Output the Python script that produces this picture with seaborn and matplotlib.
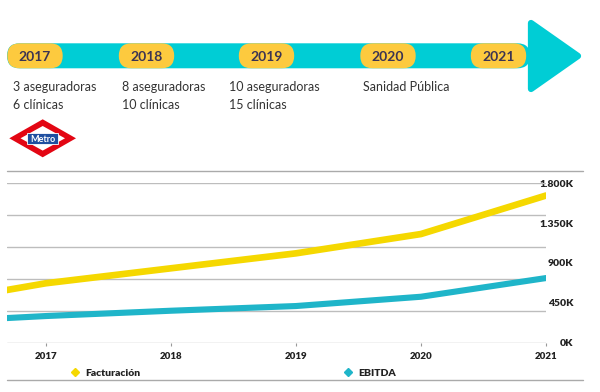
import pandas as pd
import matplotlib.pyplot as plt
import seaborn as sns
from matplotlib.patches import FancyBboxPatch, Polygon, Rectangle
from matplotlib.lines import Line2D
from matplotlib.ticker import MultipleLocator

# datos (miles de euros), 2016 queda fuera del borde izquierdo
anios = [2016, 2017, 2018, 2019, 2020, 2021]
facturacion = [427, 671, 840, 1009, 1227, 1662]
ebitda = [228, 301, 361, 414, 519, 730]

x_ticks = [2017, 2018, 2019, 2020, 2021]
y_ticks = [0, 450, 900, 1350, 1800]
y_labels = ['0K', '450K', '900K', '1.350K', '1.800K']

hitos = ['2017', '2018', '2019', '2020', '2021']
hitos_linea1 = ['3 aseguradoras', '8 aseguradoras', '10 aseguradoras', 'Sanidad Pública', '']
hitos_linea2 = ['6 clínicas', '10 clínicas', '15 clínicas', '', '']

# posiciones del timeline (pixeles)
pill_x = [35, 146.5, 266.5, 388, 498.5]
texto_x = [12.7, 121.7, 229.3, 363.3, 470]

AMARILLO = '#F5D800'
TURQUESA = '#1FB5C9'
BARRA = '#00CDD5'
PILL = '#FDCA3E'
MORADO = '#3C3452'

sns.set_style('white')
plt.rcParams['font.family'] = ['Lato', 'DejaVu Sans']

df = pd.DataFrame({'anio': anios * 2,
                   'valor': facturacion + ebitda,
                   'serie': ['Facturación'] * len(anios) + ['EBITDA'] * len(anios)})

fig = plt.figure(figsize=(6, 3.92), dpi=100)

# capa de fondo en pixeles para el timeline
bg = fig.add_axes([0, 0, 1, 1], zorder=0)
bg.set_xlim(0, 600)
bg.set_ylim(392, 0)
bg.axis('off')

bg.add_patch(FancyBboxPatch((7, 43.3), 523, 25, boxstyle='round,pad=0,rounding_size=12.5',
                            fc=BARRA, ec='none'))
bg.add_patch(Polygon([(531, 23), (531, 89), (578, 56)], closed=True, fc=BARRA, ec=BARRA,
                     lw=4.5, joinstyle='round'))
for cx, anio, l1, l2, tx in zip(pill_x, hitos, hitos_linea1, hitos_linea2, texto_x):
    bg.add_patch(FancyBboxPatch((cx - 27.7, 43.3), 55.4, 25,
                                boxstyle='round,pad=0,rounding_size=12.5', fc=PILL, ec='none'))
    bg.text(cx, 56.5, anio, ha='center', va='center', fontsize=10, fontweight='bold', color=MORADO)
    bg.text(tx, 86.7, l1, ha='left', va='center', fontsize=9, color='#333333')
    bg.text(tx, 105, l2, ha='left', va='center', fontsize=9, color='#333333')

# logo metro
bg.add_patch(Polygon([(9.3, 138.3), (42.7, 119.3), (76, 138.3), (42.7, 157.3)], fc='#E30613', ec='none'))
bg.add_patch(Polygon([(20.5, 138.3), (42.7, 126), (65, 138.3), (42.7, 150.6)], fc='white', ec='none'))
bg.add_patch(Rectangle((26.7, 133.3), 31.6, 11, fc='#1F4FA0', ec='white', lw=0.6))
bg.text(42.5, 139, 'Metro', ha='center', va='center', fontsize=6.5, fontweight='bold', color='white')

# lineas separadoras
bg.plot([7, 583], [170.7, 170.7], color='#AAAAAA', lw=1)
bg.plot([7, 583], [380, 380], color='#AAAAAA', lw=1)

# grafico
ax = fig.add_axes([7 / 600, (392 - 342.7) / 392, 539 / 600, 159.4 / 392], zorder=1)
ax.patch.set_alpha(0)
sns.lineplot(data=df[df['serie'] == 'EBITDA'], x='anio', y='valor', color=TURQUESA,
             linewidth=4.4, ax=ax, legend=False)
sns.lineplot(data=df[df['serie'] == 'Facturación'], x='anio', y='valor', color=AMARILLO,
             linewidth=4.8, ax=ax, legend=False)

ax.set_xlim(2016.69, 2021)
ax.set_ylim(0, 1800)
ax.set_xlabel('')
ax.set_ylabel('')
sns.despine(ax=ax, left=True, bottom=True)

ax.yaxis.set_minor_locator(MultipleLocator(360))
ax.yaxis.remove_overlapping_locs = False
ax.grid(False)
ax.grid(which='minor', axis='y', color='#BDBDBD', lw=1)

ax.yaxis.tick_right()
ax.set_yticks(y_ticks, labels=y_labels, fontweight='heavy', ha='right')
ax.tick_params(axis='y', which='both', length=0, pad=19.5, labelsize=7.5, labelcolor='#222222')

ax.set_xticks(x_ticks, labels=[str(x) for x in x_ticks], fontweight='heavy')
ax.tick_params(axis='x', length=2.5, width=0.8, color='#999999', pad=4, labelsize=7,
               labelcolor='#222222', bottom=True)

handles = [Line2D([], [], ls='none', marker='D', ms=4, color=AMARILLO),
           Line2D([], [], ls='none', marker='D', ms=4, color=TURQUESA)]
fig.legend(handles, ['Facturación', 'EBITDA'], loc='center left',
           bbox_to_anchor=(71 / 600, 18.7 / 392), ncol=2, frameon=False,
           handlelength=0.8, handletextpad=0.6, columnspacing=19.5, borderpad=0,
           borderaxespad=0, prop=dict(weight='heavy', size=7.5), labelcolor='#222222')

fig.savefig('out.png', dpi=100)
